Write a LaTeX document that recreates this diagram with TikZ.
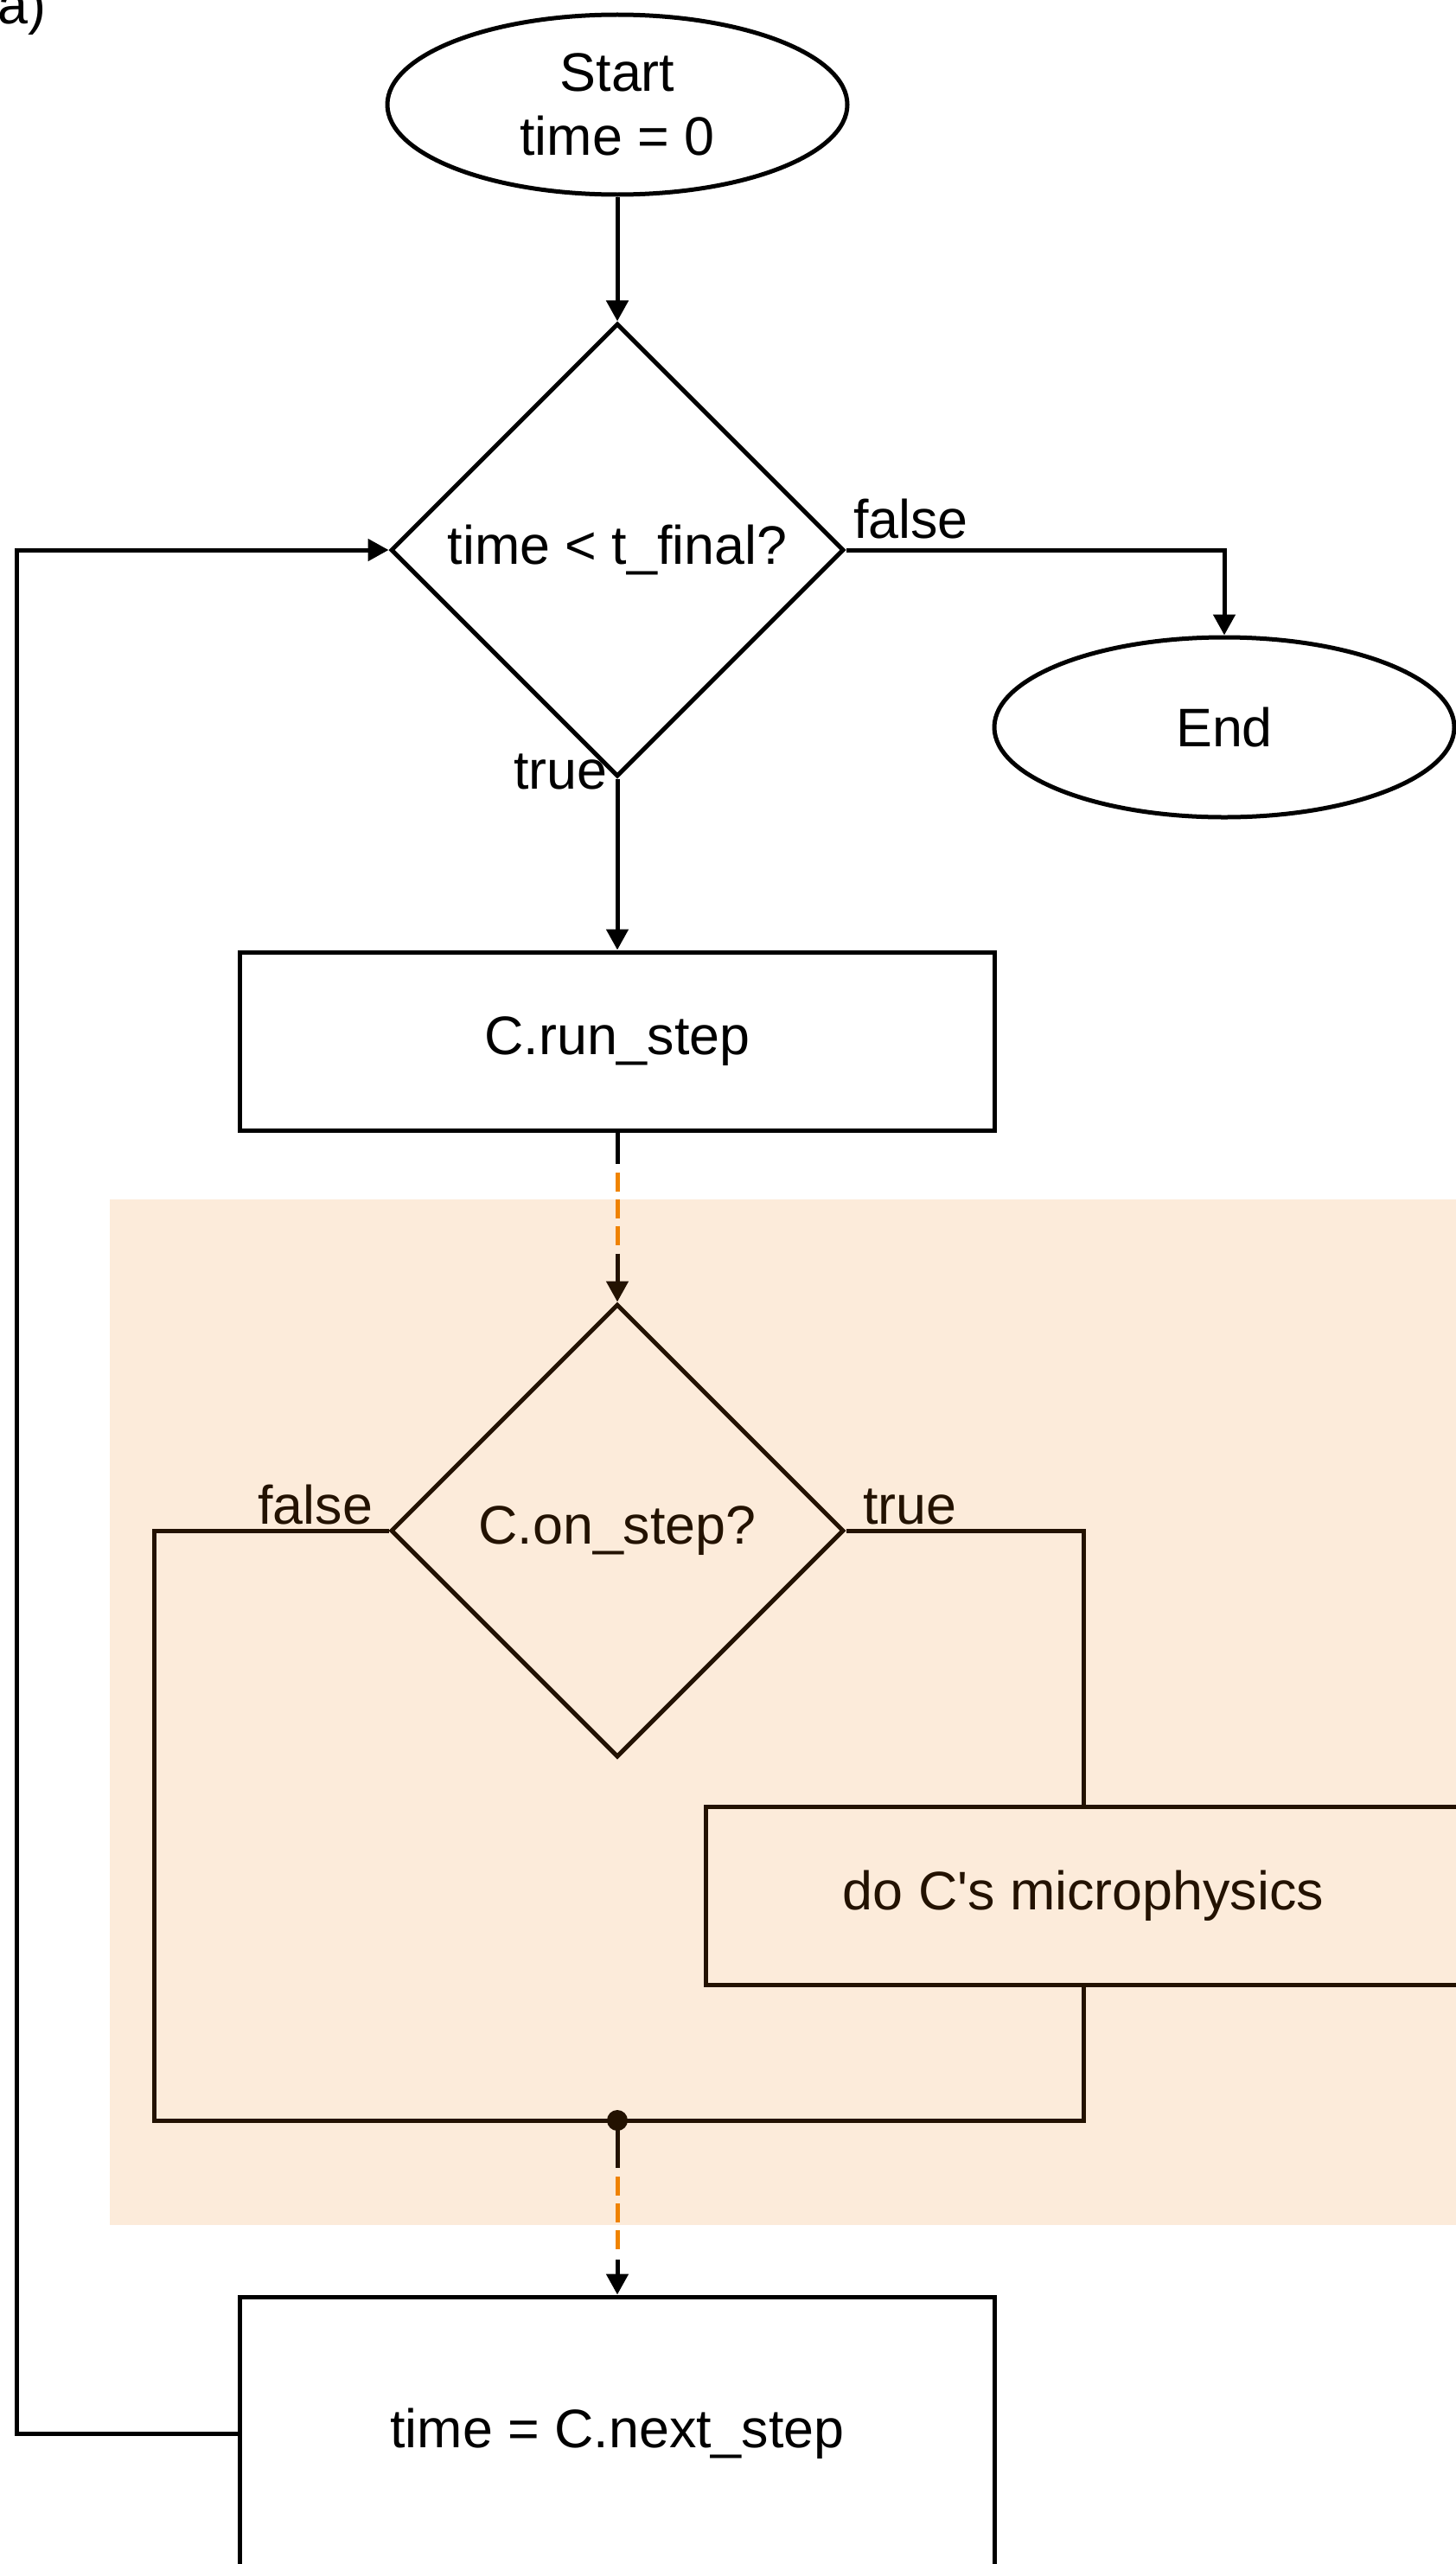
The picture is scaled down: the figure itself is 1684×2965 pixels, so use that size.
\documentclass[tikz,border=0pt]{standalone}
\usepackage{fontspec}
\setmainfont{Liberation Sans}
\usepackage{tikz}
\usetikzlibrary{positioning,shapes.geometric,arrows.meta}

\definecolor{bandorange}{RGB}{235,122,8}
\definecolor{dashorange}{RGB}{240,132,0}

\tikzset{
  every node/.style={font=\fontsize{31.4}{37}\selectfont},
  terminal/.style={ellipse, draw, fill=white, minimum width=266pt, minimum height=104pt, inner sep=0pt, align=center},
  decision/.style={diamond, draw, fill=white, minimum width=262pt, minimum height=262pt, inner sep=0pt},
  process/.style={rectangle, draw, fill=white, minimum width=436.5pt, minimum height=103pt, inner sep=0pt},
  branchlabel/.style={inner sep=0pt},
  flowdash/.style={dashorange, dash pattern=on 11pt off 4.5pt},
  activeband/.style={fill=bandorange, fill opacity=0.15},
}

\begin{document}
\begin{tikzpicture}[x=0.5pt, y=-0.5pt, line width=2.5pt, >={Triangle[length=12pt,width=12.5pt]}]
            \clip (0,0) rectangle (1684,2965);

            \node [branchlabel, anchor=base east] (tag) at (56,28) {a)};

            \node [terminal] (start) at (714,121) {Start\\time = 0};
            \node [decision, below=72pt of start] (tcheck) {time < t\_final?};
            \node [terminal] (stop) at (1416,841) {End};
            \node [process, below=99pt of tcheck] (run) {C.run\_step};
            \node [decision, below=98pt of run] (oncheck) {C.on\_step?};
            \node [process] (micro) at (1253,2192) {do C\textquotesingle s microphysics};
            \node [process, minimum height=158pt] (next) at (714,2814) {time = C.next\_step};

            \coordinate (join) at (714,2452);
            \coordinate (leftx) at (178,0);
            \coordinate (loopx) at (19,0);

            % main line
            \draw [->] (start) -- (tcheck);
            \draw [->] (tcheck.east) -| node [branchlabel, pos=0, anchor=base west, xshift=3pt, yshift=7pt] {false} (stop.north);
            \draw [->] (tcheck.south) -- node [branchlabel, pos=0, anchor=base east, xshift=-4.5pt, yshift=-6pt] {true} (run.north);

            \draw (run.south) -- ++(0,36) coordinate (r1);
            \draw [flowdash] ([yshift=-5pt]r1) -- ++(0,84);
            \draw [->] ([yshift=-52pt]r1) -- (oncheck.north);

            % branches of C.on_step?
            \draw (oncheck.west) -- node [branchlabel, pos=0, anchor=base east, xshift=-8pt, yshift=4pt] {false} (oncheck.west -| leftx) |- (join);
            \draw (oncheck.east) -| node [branchlabel, pos=0, anchor=base west, xshift=8.5pt, yshift=4pt] {true} (micro.north);
            \draw (micro.south) |- (join);
            \fill (join) circle (6pt);

            \draw (join) -- ++(0,55) coordinate (j1);
            \draw [flowdash] ([yshift=-5pt]j1) -- ++(0,84);
            \draw [->] ([yshift=-53pt]j1) -- (next.north);

            % loop back
            \draw [->] (next.west) -- (next.west -| loopx) |- (tcheck.west);

            \fill [activeband] (127,1387) rectangle (1684,2573);
        \end{tikzpicture}
\end{document}
